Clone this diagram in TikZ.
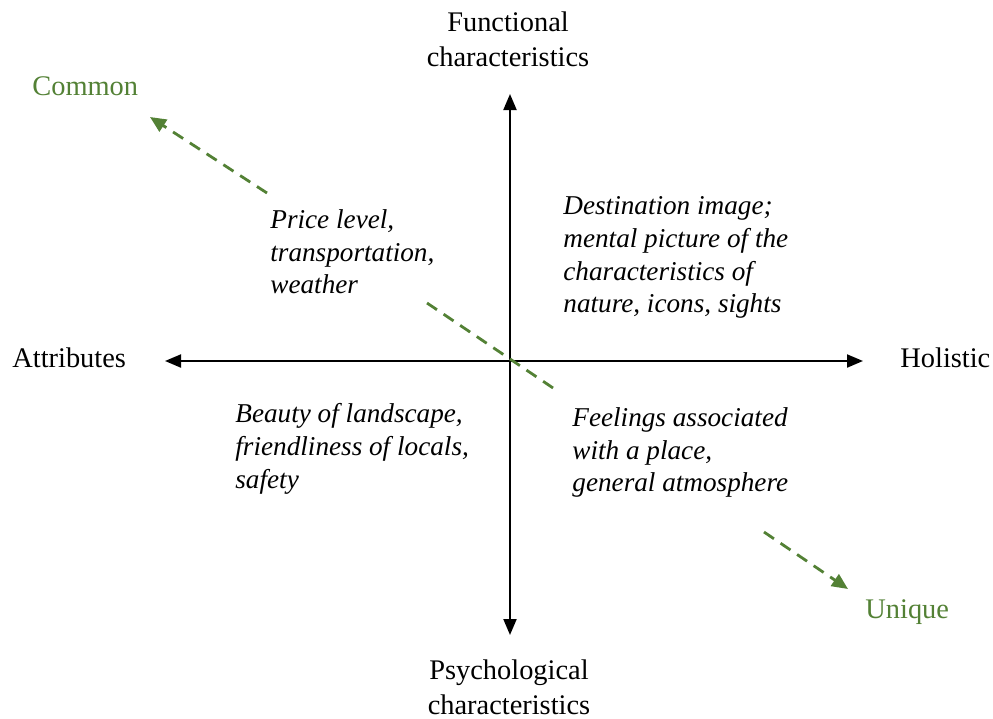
\documentclass[tikz,border=0pt]{standalone}
\usepackage{fontspec}
\setmainfont{Liberation Serif}
\usetikzlibrary{arrows.meta}
\definecolor{leafgreen}{HTML}{538135}

\begin{document}
\begin{tikzpicture}[x=0.5pt,y=-0.5pt,
   axis/.style={line width=1pt,{Triangle[length=8pt,width=6.5pt]}-{Triangle[length=8pt,width=6.5pt]}},
   trend/.style={leafgreen,line width=1.4pt,dash pattern=on 6pt off 4pt},
   pole/.style={inner sep=0pt,font=\fontsize{14.2}{17.5}\selectfont},
   quad/.style={inner sep=0pt,align=left,anchor=north west,font=\fontsize{13.6}{16.4}\selectfont\itshape}]
   \useasboundingbox (0,0) rectangle (993,719);

   % axes
   \coordinate (axtop) at (510,94);
   \coordinate (axbot) at (510,635);
   \coordinate (axleft) at (165,361);
   \coordinate (axright) at (863,361);
   \draw[axis] (axtop) -- (axbot);
   \draw[axis] (axleft) -- (axright);

   \node[pole,align=center,anchor=north] (functional) at (508,11) {Functional\\characteristics};
   \node[pole,align=center,anchor=north] (psych) at (509,659) {Psychological\\characteristics};
   \node[pole,anchor=base west] (attr) at (12,367) {Attributes};
   \node[pole,anchor=base west] (holistic) at (900,367) {Holistic};

   % quadrants
   \node[quad] (price) at (270,209) {Price level,\\transportation,\\weather};
   \node[quad] (image) at (563,196) {Destination image;\\mental picture of the\\characteristics of\\nature, icons, sights};
   \node[quad] (beauty) at (235,403) {Beauty of landscape,\\friendliness of locals,\\safety};
   \node[quad] (feelings) at (572,407) {Feelings associated\\with a place,\\general atmosphere};

   % common -- unique
   \node[pole,leafgreen,anchor=base west] (common) at (32,95) {Common};
   \node[pole,leafgreen,anchor=base west] (unique) at (865,618) {Unique};
   \coordinate (cuA) at (150,117);
   \coordinate (cuB) at (267,193);
   \coordinate (cuC) at (427,303);
   \coordinate (cuD) at (559,392);
   \coordinate (cuE) at (764,532);
   \coordinate (cuF) at (848,589);
   \draw[trend,-{Triangle[length=8pt,width=7pt]}] (cuB) -- (cuA);
   \draw[trend] (cuC) -- (cuD);
   \draw[trend,-{Triangle[length=8pt,width=7pt]}] (cuE) -- (cuF);
\end{tikzpicture}
\end{document}
